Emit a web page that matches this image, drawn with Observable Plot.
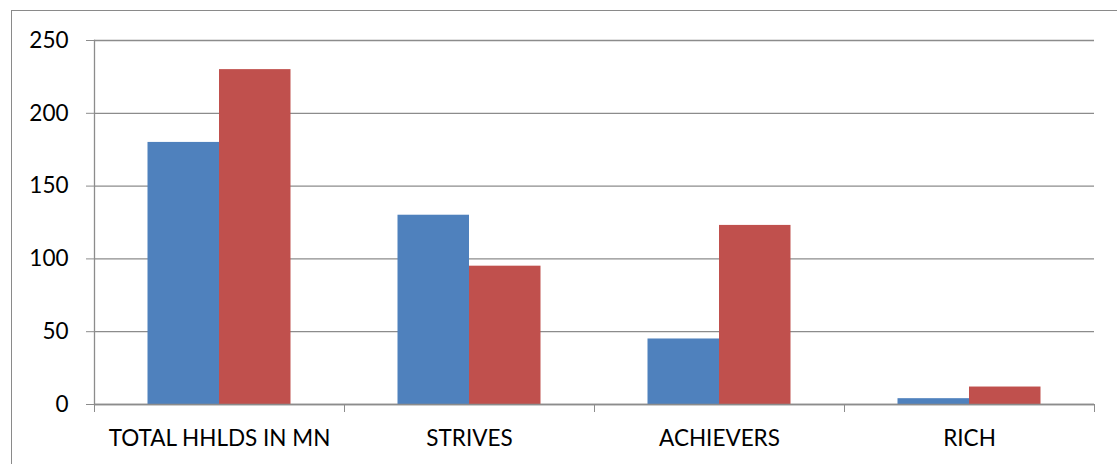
<!DOCTYPE html>
<html><head>
<meta charset="utf-8">
<script src="https://cdn.jsdelivr.net/npm/d3@7"></script>
<script src="https://cdn.jsdelivr.net/npm/@observablehq/plot@0.6"></script>
<style>
body{margin:0;background:#fff;}
#wrap{position:relative;width:1117px;height:464px;overflow:hidden;}
#wrap svg{position:absolute;left:0;top:0;}
#border{position:absolute;left:11px;top:10px;width:1200px;height:500px;border-left:1.5px solid #8a8a8a;border-top:1.5px solid #8a8a8a;}
</style></head><body><div id="wrap"><div id="border"></div></div>
<script>
const categories = ["TOTAL HHLDS IN MN", "STRIVES", "ACHIEVERS", "RICH"];
const seriesBlue = [180, 130, 45, 4];
const seriesRed = [230, 95, 123, 12];
const yTicks = [0, 50, 100, 150, 200, 250];

const blueData = categories.map((c, i) => ({cat: c, v: seriesBlue[i]}));
const redData = categories.map((c, i) => ({cat: c, v: seriesRed[i]}));

const chart = Plot.plot({
  width: 1117,
  height: 464,
  marginLeft: 94,
  marginRight: 23,
  marginTop: 40,
  marginBottom: 60,
  style: {fontFamily: "Lato", background: "transparent", overflow: "visible"},
  x: {domain: categories, padding: 0, axis: null},
  y: {domain: [0, 250], axis: null},
  marks: [
    Plot.gridY(yTicks, {stroke: "#8c8c8c", strokeOpacity: 1, strokeWidth: 1.3}),
    Plot.frame({anchor: "left", stroke: "#8c8c8c", strokeWidth: 1.3}),
    Plot.barY(blueData, {x: "cat", y: "v", fill: "#4F81BD", insetLeft: 53.5, insetRight: 125}),
    Plot.barY(redData, {x: "cat", y: "v", fill: "#C0504D", insetLeft: 125, insetRight: 53.5}),
    Plot.ruleY([0], {stroke: "#8c8c8c", strokeWidth: 1.3}),
    Plot.axisY(yTicks, {tickSize: 8, tickPadding: 18, fontSize: 22.5, stroke: "#8c8c8c", fill: "#000", label: null, tickFormat: d => String(d)}),
    Plot.axisX({tickSize: 8, dx: -125, stroke: "#8c8c8c", label: null, tickFormat: () => ""}),
    Plot.axisX([categories[categories.length - 1]], {tickSize: 8, dx: 125, stroke: "#8c8c8c", label: null, tickFormat: () => ""}),
    Plot.axisX({tickSize: 0, tickPadding: 26, fontSize: 22.5, fill: "#000", label: null})
  ]
});
document.getElementById("wrap").appendChild(chart);
</script>
</body></html>
